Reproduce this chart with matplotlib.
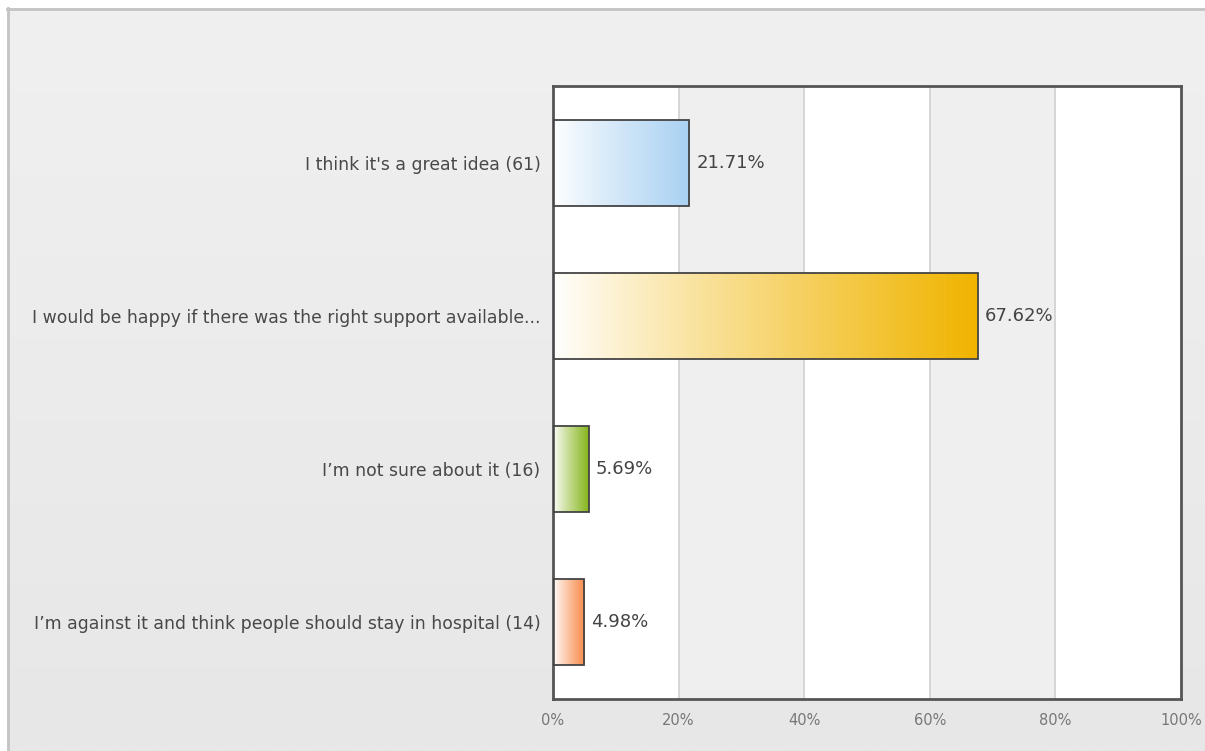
import matplotlib
matplotlib.use("Agg")
import matplotlib.pyplot as plt
import numpy as np
from matplotlib.colors import LinearSegmentedColormap

# Survey answers, top to bottom
labels = [
    "I think it's a great idea (61)",
    "I would be happy if there was the right support available...",
    "I\u2019m not sure about it (16)",
    "I\u2019m against it and think people should stay in hospital (14)",
]
percents = [21.71, 67.62, 5.69, 4.98]
bar_colors = ["#a9d1f2", "#f0b400", "#86b51c", "#f78a4a"]
x_ticks = [0, 20, 40, 60, 80, 100]

W, H = 1205, 751
fig = plt.figure(figsize=(W / 100, H / 100), dpi=100)
fig.patch.set_facecolor("white")

# page background: soft vertical grey gradient inside a thin border
bx0, by1 = 7 / W, 1 - 8 / H
bg = fig.add_axes([bx0, 0, 1 - bx0, by1])
bg.set_axis_off()
grad = np.linspace(0, 1, 256).reshape(-1, 1)
bg_cmap = LinearSegmentedColormap.from_list("bg", ["#f0f0f0", "#e7e7e7"])
bg.imshow(grad, cmap=bg_cmap, aspect="auto", extent=[0, 1, 0, 1], origin="upper")
bg.set_xlim(0, 1)
bg.set_ylim(0, 1)
bg.plot([0, 1], [0.999, 0.999], color="#c4c4c4", lw=2, transform=bg.transAxes, clip_on=False)
bg.plot([0.0005, 0.0005], [0, 1], color="#c4c4c4", lw=2, transform=bg.transAxes, clip_on=False)

left, right, top, bottom = 553, 1181, 86, 699
ax = fig.add_axes([left / W, 1 - bottom / H, (right - left) / W, (bottom - top) / H])

n = len(labels)
ypos = np.arange(n)

# alternating column bands and grid lines
for i in range(len(x_ticks) - 1):
    c = "white" if i % 2 == 0 else "#efefef"
    ax.axvspan(x_ticks[i], x_ticks[i + 1], color=c, zorder=0, lw=0)
for t in x_ticks[1:-1]:
    ax.axvline(t, color="#d0d0d0", lw=1.2, zorder=1)

bar_h = 0.56
for y, v, col in zip(ypos, percents, bar_colors):
    cmap = LinearSegmentedColormap.from_list("g", ["#ffffff", col])
    g = np.linspace(0, 1, 256).reshape(1, -1) ** 0.9
    ax.imshow(g, cmap=cmap, aspect="auto", interpolation="bicubic",
              extent=[0, v, y + bar_h / 2, y - bar_h / 2], zorder=2)
    ax.barh(y, v, height=bar_h, facecolor="none", edgecolor="#444444",
            lw=1.3, zorder=3)
    ax.text(v + 1.1, y, f"{v:.2f}%", va="center", ha="left",
            fontsize=13, color="#444444", zorder=4)

ax.set_xlim(0, 100)
ax.set_ylim(n - 0.5, -0.5)
ax.set_yticks(ypos)
ax.set_yticklabels(labels, fontsize=12.4, color="#484848")
ax.set_xticks(x_ticks)
ax.set_xticklabels([f"{t}%" for t in x_ticks], fontsize=10.5, color="#777777")
ax.tick_params(axis="both", length=0)
ax.tick_params(axis="y", pad=9)
ax.tick_params(axis="x", pad=10)
for s in ax.spines.values():
    s.set_color("#555555")
    s.set_linewidth(2)

fig.savefig("out.png", dpi=100)
